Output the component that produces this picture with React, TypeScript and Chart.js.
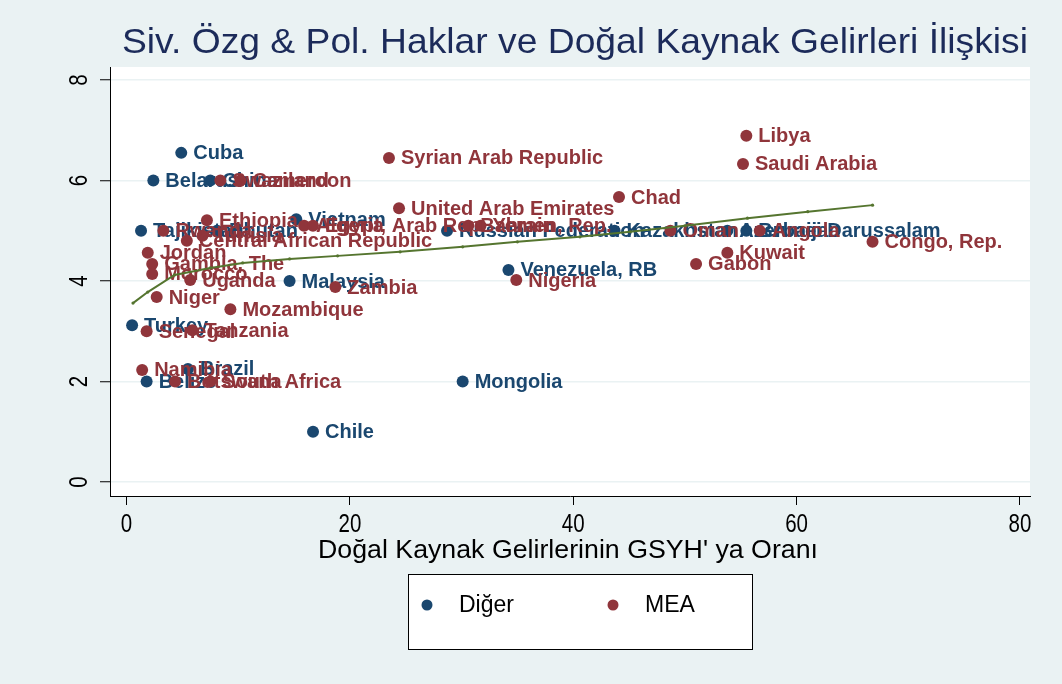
import React, { useEffect, useRef } from "react";
import { Chart, registerables } from "chart.js";

Chart.register(...registerables);

const digerNames = ["Cuba", "Belarus", "China", "Vietnam", "Tajikistan", "Bhutan", "Russian Federation", "Kazakhstan", "Azerbaijan", "Brunei Darussalam", "Venezuela, RB", "Malaysia", "Turkey", "Brazil", "Belize", "Mongolia", "Chile"];
const digerX = [4.9, 2.4, 7.5, 15.2, 1.3, 8.1, 28.7, 43.7, 53.8, 55.5, 34.2, 14.6, 0.5, 5.5, 1.8, 30.1, 16.7];
const digerY = [6.55, 6.0, 6.0, 5.23, 5.0, 5.0, 5.0, 5.0, 5.0, 5.0, 4.22, 4.0, 3.12, 2.25, 2.0, 2.0, 1.0];

const meaNames = ["Libya", "Saudi Arabia", "Syrian Arab Republic", "Swaziland", "Cameroon", "Chad", "United Arab Emirates", "Ethiopia", "Algeria", "Egypt, Arab Rep.", "Bahrain", "Yemen, Rep.", "Rwanda", "Tunisia", "Central African Republic", "Oman", "Angola", "Congo, Rep.", "Kuwait", "Gabon", "Nigeria", "Zambia", "Jordan", "Gambia, The", "Morocco", "Uganda", "Niger", "Mozambique", "Senegal", "Tanzania", "Namibia", "Botswana", "South Africa"];
const meaX = [55.5, 55.2, 23.5, 8.4, 10.2, 44.1, 24.4, 7.2, 15.9, 16.7, 30.6, 31.7, 3.3, 6.8, 5.4, 48.7, 56.7, 66.8, 53.8, 51.0, 34.9, 18.7, 1.9, 2.3, 2.3, 5.7, 2.7, 9.3, 1.8, 5.9, 1.4, 4.35, 7.5];
const meaY = [6.89, 6.33, 6.45, 6.0, 6.0, 5.67, 5.45, 5.21, 5.1, 5.1, 5.1, 5.1, 5.0, 4.9, 4.8, 5.0, 5.0, 4.78, 4.56, 4.34, 4.02, 3.88, 4.56, 4.34, 4.14, 4.02, 3.68, 3.44, 3.0, 3.02, 2.23, 2.0, 2.0];

const fitX = [0.58, 1.9, 4.3, 7.5, 10.4, 14.6, 18.9, 24.5, 30.1, 35.0, 40.6, 45.1, 50.0, 55.6, 61.0, 66.8];
const fitY = [3.56, 3.78, 4.12, 4.26, 4.36, 4.44, 4.5, 4.58, 4.68, 4.78, 4.88, 4.98, 5.1, 5.25, 5.38, 5.51];

const xTicks = [0, 20, 40, 60, 80];
const yTicks = [0, 2, 4, 6, 8];

const titleText = "Siv. Özg & Pol. Haklar ve Doğal Kaynak Gelirleri İlişkisi";
const xTitleText = "Doğal Kaynak Gelirlerinin GSYH' ya Oranı";
const seriesLabels = ["Diğer", "MEA"];

const NAVY = "#1A476F";
const MAROON = "#90353B";
const GREEN = "#55752F";
const BG = "#EAF2F3";
const FONT = '"Liberation Sans", Arial, sans-serif';

function fitText(ctx: CanvasRenderingContext2D, text: string, cx: number, cy: number, font: string, width: number, color: string) {
  ctx.save();
  ctx.font = font;
  const w = ctx.measureText(text).width;
  ctx.translate(cx, cy);
  ctx.scale(width / w, 1);
  ctx.fillStyle = color;
  ctx.textAlign = "center";
  ctx.textBaseline = "middle";
  ctx.fillText(text, 0, 0);
  ctx.restore();
}

const customPlugin = {
  id: "custom",
  beforeDraw(chart: any) {
    const { ctx, chartArea } = chart;
    ctx.save();
    ctx.fillStyle = BG;
    ctx.fillRect(0, 0, chart.width, chart.height);
    ctx.fillStyle = "#FFFFFF";
    ctx.fillRect(chartArea.left, chartArea.top, chartArea.right - chartArea.left, chartArea.bottom - chartArea.top);
    ctx.restore();
  },
  afterDatasetDraw(chart: any, args: any) {
    const ds = chart.data.datasets[args.index];
    if (!ds.names) return;
    const { ctx } = chart;
    const meta = chart.getDatasetMeta(args.index);
    ctx.save();
    ctx.font = "bold 20px " + FONT;
    ctx.fillStyle = ds.backgroundColor;
    ctx.textAlign = "left";
    ctx.textBaseline = "middle";
    meta.data.forEach((el: any, i: number) => {
      ctx.fillText(ds.names[i], el.x + 12, el.y + 1);
    });
    ctx.restore();
  },
  afterDraw(chart: any) {
    const { ctx } = chart;
    const xs = chart.scales.x;
    const ys = chart.scales.y;
    fitText(ctx, titleText, 575, 43, "35px " + FONT, 906, "#1C2B5A");
    fitText(ctx, xTitleText, 568, 551, "25px " + FONT, 500, "#000000");
    ctx.save();
    ctx.font = "25px " + FONT;
    ctx.fillStyle = "#000";
    ctx.textAlign = "center";
    ctx.textBaseline = "middle";
    xTicks.forEach((v) => {
      const px = xs.getPixelForValue(v);
      ctx.save();
      ctx.translate(px, 525);
      ctx.scale(0.82, 1);
      ctx.fillText(String(v), 0, 0);
      ctx.restore();
    });
    yTicks.forEach((v) => {
      const py = ys.getPixelForValue(v);
      ctx.save();
      ctx.translate(80, py);
      ctx.rotate(-Math.PI / 2);
      ctx.scale(0.82, 1);
      ctx.fillText(String(v), 0, 0);
      ctx.restore();
    });
    ctx.restore();
    ctx.save();
    ctx.fillStyle = "#FFFFFF";
    ctx.fillRect(408, 574, 344, 75);
    ctx.strokeStyle = "#000";
    ctx.lineWidth = 1;
    ctx.strokeRect(408.5, 574.5, 344, 75);
    const items = [
      { x: 427, color: NAVY, label: seriesLabels[0] },
      { x: 613, color: MAROON, label: seriesLabels[1] },
    ];
    ctx.font = "23px " + FONT;
    ctx.textAlign = "left";
    ctx.textBaseline = "middle";
    items.forEach((it) => {
      ctx.beginPath();
      ctx.arc(it.x, 605, 5.5, 0, Math.PI * 2);
      ctx.fillStyle = it.color;
      ctx.fill();
      ctx.fillStyle = "#000";
      ctx.fillText(it.label, it.x + 32, 606);
    });
    ctx.restore();
  },
};

export default function App() {
  const ref = useRef<HTMLCanvasElement | null>(null);
  useEffect(() => {
    document.body.style.margin = "0";
    const canvas = ref.current;
    if (!canvas) return;
    const chart = new Chart(canvas, {
      type: "scatter",
      data: {
        datasets: [
          {
            type: "line",
            label: "fit",
            data: fitX.map((x, i) => ({ x, y: fitY[i] })),
            borderColor: GREEN,
            backgroundColor: GREEN,
            borderWidth: 2,
            pointRadius: 1.6,
            pointBackgroundColor: GREEN,
            pointBorderWidth: 0,
            showLine: true,
            fill: false,
            tension: 0,
          } as any,
          {
            label: seriesLabels[1],
            names: meaNames,
            data: meaX.map((x, i) => ({ x, y: meaY[i] })),
            backgroundColor: MAROON,
            borderWidth: 0,
            pointRadius: 6,
          } as any,
          {
            label: seriesLabels[0],
            names: digerNames,
            data: digerX.map((x, i) => ({ x, y: digerY[i] })),
            backgroundColor: NAVY,
            borderWidth: 0,
            pointRadius: 6,
          } as any,
        ],
      },
      options: {
        responsive: false,
        animation: false,
        layout: { padding: { top: 67, right: 32, left: 0, bottom: 0 } },
        plugins: { legend: { display: false }, tooltip: { enabled: false }, title: { display: false } },
        scales: {
          x: {
            type: "linear",
            min: -1.48,
            max: 80.9,
            afterBuildTicks: (s: any) => { s.ticks = xTicks.map((v) => ({ value: v })); },
            afterFit: (s: any) => { s.height = 188; },
            grid: { display: true, drawOnChartArea: false, drawTicks: true, tickLength: 9, tickColor: "#000", tickWidth: 1 },
            border: { display: true, color: "#000", width: 1 },
            ticks: { color: "rgba(0,0,0,0)", font: { size: 20 } },
          },
          y: {
            type: "linear",
            min: -0.279,
            max: 8.259,
            afterBuildTicks: (s: any) => { s.ticks = yTicks.map((v) => ({ value: v })); },
            afterFit: (s: any) => { s.width = 110; },
            grid: { display: true, color: BG, lineWidth: 1.5, drawTicks: true, tickLength: 10, tickColor: "#000", tickWidth: 1 },
            border: { display: true, color: "#000", width: 1 },
            ticks: { color: "rgba(0,0,0,0)", font: { size: 20 } },
          },
        },
      } as any,
      plugins: [customPlugin],
    });
    return () => chart.destroy();
  }, []);
  return (
    <div style={{ position: "absolute", left: 0, top: 0 }}>
      <canvas ref={ref} width={1062} height={684} style={{ width: 1062, height: 684, display: "block" }} />
    </div>
  );
}
